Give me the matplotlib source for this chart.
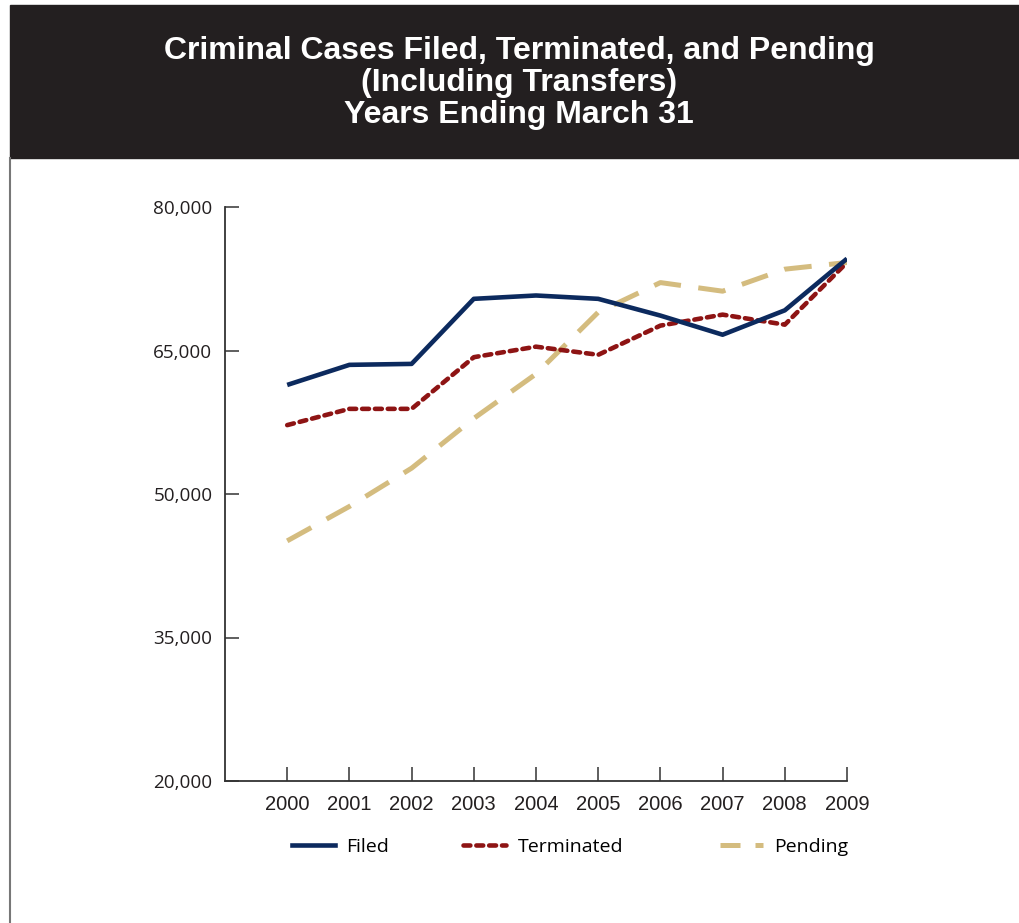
import matplotlib.pyplot as plt
from matplotlib.lines import Line2D
from matplotlib.patches import Rectangle
from matplotlib.ticker import FuncFormatter

years = [2000, 2001, 2002, 2003, 2004, 2005, 2006, 2007, 2008, 2009]
filed = [61400, 63500, 63600, 70400, 70750, 70400, 68650, 66650, 69200, 74600]
terminated = [57200, 58900, 58900, 64300, 65400, 64550, 67600, 68750, 67700, 74200]
pending = [45100, 48700, 52700, 57900, 62550, 69000, 72100, 71200, 73500, 74200]

y_ticks = [20000, 35000, 50000, 65000, 80000]
title = "Criminal Cases Filed, Terminated, and Pending\n(Including Transfers)\nYears Ending March 31"

navy = "#0c2a5e"
dark_red = "#8e1414"
tan = "#d4bc7f"

fig = plt.figure(figsize=(10.2, 9.23), dpi=100)

# black title band and left border line
fig.patches.append(Rectangle((10 / 1020, 1 - 158 / 923), 1, 153 / 923,
                             transform=fig.transFigure, color="#231f20", zorder=0))
fig.lines.append(Line2D([10.5 / 1020, 10.5 / 1020], [0, 1 - 158 / 923],
                        transform=fig.transFigure, color="#777777", lw=1.5))
fig.text(0.509, 1 - 83 / 923, title, ha="center", va="center", color="white",
         fontsize=23, fontweight="heavy", family="Liberation Sans", linespacing=1.07)

ax = fig.add_axes([225 / 1020, 1 - 781 / 923, 622 / 1020, 574 / 923])

ax.plot(years, filed, color=navy, lw=3.3, solid_capstyle="butt", zorder=3)
ax.plot(years, terminated, color=dark_red, lw=3.3, linestyle=(0, (1.5, 1.3)),
        dash_capstyle="round", zorder=2)
ax.plot(years, pending, color=tan, lw=3.6, linestyle=(0, (5.5, 3.5)), zorder=1)

ax.set_xlim(1999, 2009)
ax.set_ylim(20000, 80000)
ax.set_xticks(years)
ax.set_yticks(y_ticks)
ax.yaxis.set_major_formatter(FuncFormatter(lambda v, p: f"{int(v):,}"))

for side in ["top", "right"]:
    ax.spines[side].set_visible(False)
for side in ["left", "bottom"]:
    ax.spines[side].set_color("#333333")
    ax.spines[side].set_linewidth(1.3)

ax.tick_params(axis="both", direction="in", length=10, width=1.1, color="#333333")
ax.tick_params(axis="y", pad=9, labelsize=13.6, labelcolor="#231f20")
ax.tick_params(axis="x", pad=10, labelsize=14.5, labelcolor="#231f20")
for lab in ax.get_yticklabels():
    lab.set_family("Open Sans")
for lab in ax.get_xticklabels():
    lab.set_family("Liberation Sans")

# legend, one entry per block
entries = [
    (Line2D([], [], color=navy, lw=3.3), "Filed", 292),
    (Line2D([], [], color=dark_red, lw=3.3, linestyle=(0, (1.5, 1.3)), dash_capstyle="round"), "Terminated", 463),
    (Line2D([], [], color=tan, lw=3.6, linestyle=(0, (4.0, 3.0))), "Pending", 720),
]
for handle, label, xpx in entries:
    fig.legend([handle], [label], loc="center left",
               bbox_to_anchor=(xpx / 1020, 1 - 847 / 923), frameon=False,
               handlelength=2.2, handletextpad=0.6, borderpad=0, borderaxespad=0,
               prop={"family": "Open Sans", "size": 14})

fig.savefig("out.png", dpi=100)
